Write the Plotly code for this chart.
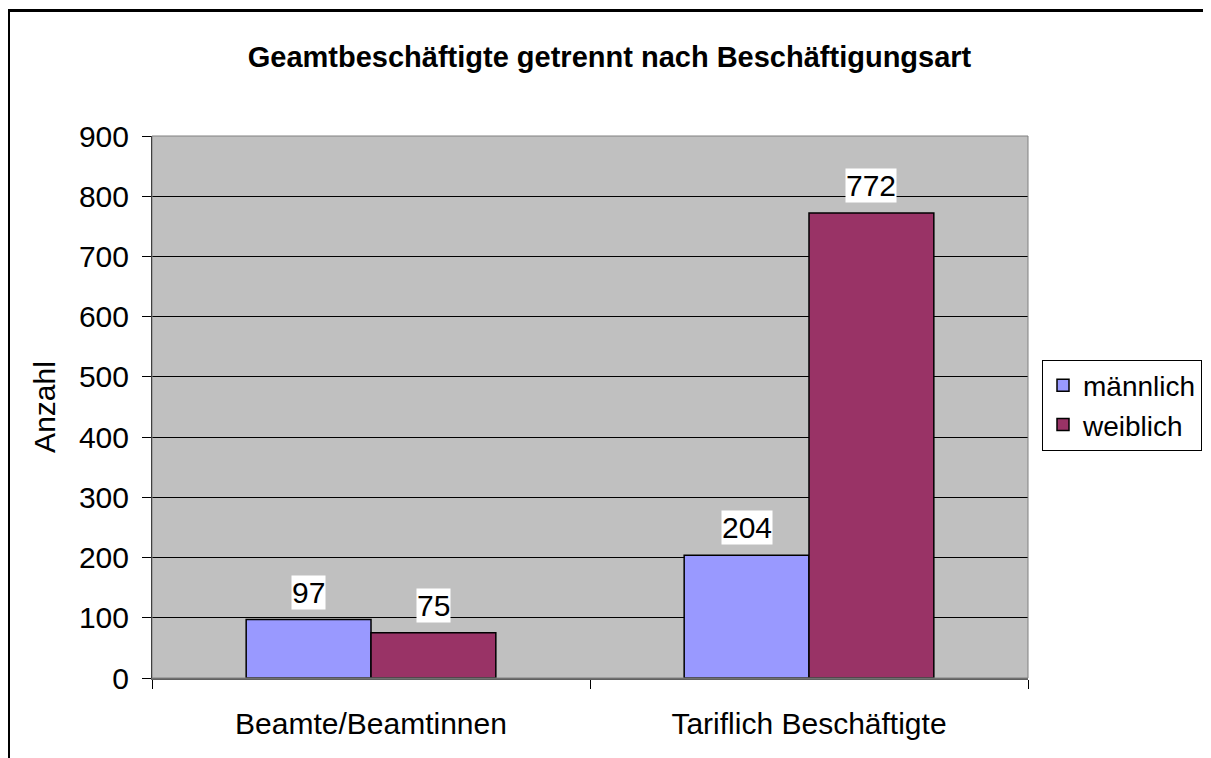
import plotly.graph_objects as go

categories = ["Beamte/Beamtinnen", "Tariflich Beschäftigte"]
series_names = ["männlich", "weiblich"]
maennlich = [97, 204]
weiblich = [75, 772]
series_values = [maennlich, weiblich]
series_colors = ["#9999FF", "#993366"]
y_ticks = [0, 100, 200, 300, 400, 500, 600, 700, 800, 900]

FONT = "Liberation Sans, Arial, sans-serif"
BARGAP = 0.43

# page has an 8px body margin; figure coordinates are page coordinates - 8
OFF = 8
W, H = 1211 - OFF, 758 - OFF
L, T = 152 - OFF, 136 - OFF
R = W - (1028 - OFF)
B = H - (678 - OFF)
pw, ph = W - L - R, H - T - B


def px_x(p):
    return (p - L) / pw


def px_y(p):
    return (H - B - p) / ph


fig = go.Figure()
for name, vals, col in zip(series_names, series_values, series_colors):
    fig.add_trace(go.Bar(
        x=categories, y=vals, name=name,
        marker=dict(color=col, line=dict(color="black", width=1.5)),
    ))

annotations = []
n = len(series_values)
for j, vals in enumerate(series_values):
    off = (j - (n - 1) / 2) * (1 - BARGAP) / n
    for i, v in enumerate(vals):
        annotations.append(dict(
            x=i + off, y=v, xref="x", yref="y", text=str(v),
            showarrow=False, yanchor="bottom", yshift=10,
            bgcolor="white", borderpad=0,
            font=dict(family=FONT, size=30, color="black"),
        ))

shapes = [
    # plot-area border
    dict(type="rect", xref="paper", yref="paper", x0=0, x1=1, y0=0, y1=1,
         line=dict(color="#808080", width=1), layer="above"),
    # outer chart border
    dict(type="rect", xref="paper", yref="paper",
         x0=px_x(0.5), x1=px_x(1240), y0=px_y(790), y1=px_y(2.5),
         line=dict(color="black", width=3), layer="above"),
]

fig.update_layout(
    width=W, height=H,
    margin=dict(l=L, r=R, t=T, b=B, autoexpand=False),
    paper_bgcolor="white", plot_bgcolor="#C0C0C0",
    barmode="group", bargap=BARGAP, bargroupgap=0,
    font=dict(family=FONT, size=30, color="black"),
    title=dict(text="<b>Geamtbeschäftigte getrennt nach Beschäftigungsart</b>",
               x=0.5, xref="container", xanchor="center",
               y=1 - 49 / H, yref="container", yanchor="middle",
               font=dict(family=FONT, size=29, color="black")),
    legend=dict(x=px_x(1042 - OFF), y=px_y(405 - OFF), xanchor="left", yanchor="middle",
                bgcolor="white", bordercolor="black", borderwidth=1,
                font=dict(family=FONT, size=28, color="black"),
                tracegroupgap=0, itemclick=False),
    annotations=annotations, shapes=shapes,
    showlegend=True,
)
fig.update_xaxes(
    type="category", tickson="boundaries", ticks="outside", ticklen=9,
    tickcolor="black", showline=True, linecolor="#606060", linewidth=2,
    showgrid=False, tickfont=dict(family=FONT, size=30, color="black"),
    ticklabelstandoff=18,
)
fig.update_yaxes(
    range=[0, 900], tickvals=y_ticks, ticks="outside", ticklen=9,
    tickcolor="black", showline=True, linecolor="black", linewidth=1,
    showgrid=True, gridcolor="black", gridwidth=1, zeroline=False,
    tickfont=dict(family=FONT, size=30, color="black"),
    ticklabelstandoff=7,
    title=dict(text="Anzahl", font=dict(family=FONT, size=30, color="black"),
               standoff=14),
)

fig.write_html("out.html")
